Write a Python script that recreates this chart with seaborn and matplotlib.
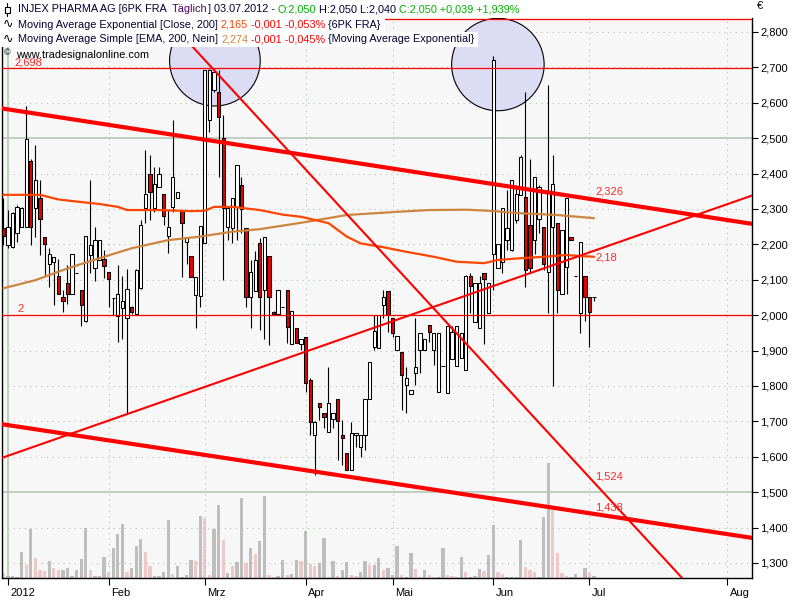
import numpy as np
import matplotlib
matplotlib.use("Agg")
import matplotlib.pyplot as plt
import matplotlib.transforms as mtransforms
from matplotlib.patches import Ellipse, Rectangle
from matplotlib.lines import Line2D
import seaborn as sns

# ---------------------------------------------------------------------------
# INJEX PHARMA AG, daily candles 30.12.2011 .. 03.07.2012 (trading-day index)
# ---------------------------------------------------------------------------
opens = [2.245, 2.198, 2.193, 2.233, 2.250, 2.250, 2.435, 2.302, 2.330, 2.221,
         2.146, 2.151, 2.110, 2.050, 2.090, 2.060, 2.120, 2.071, 1.983, 2.170,
         2.134, 2.156, 2.160, 2.121, 2.049, 1.998, 2.021, 1.991, 2.024, 2.003,
         2.077, 2.302, 2.400, 2.302, 2.363, 2.341, 2.224, 2.306, 2.330, 2.294,
         2.206, 2.167, 2.057, 2.055, 2.203, 2.551, 2.636, 2.631, 2.500, 2.250,
         2.245, 2.306, 2.368, 2.245, 2.050, 2.069, 2.203, 2.071, 2.167, 2.010,
         2.003, 2.022, 2.071, 1.920, 1.963, 1.920, 1.937, 1.817, 1.661, 1.751,
         1.723, 1.671, 1.708, 1.762, 1.661, 1.610, 1.562, 1.661, 1.627, 1.661,
         1.762, 1.911, 1.906, 2.029, 2.069, 1.991, 1.903, 1.895, 1.803, 1.777,
         1.836, 1.902, 1.902, 1.971, 1.903, 1.784, 1.856, 1.781, 1.875, 1.856,
         1.878, 1.845, 2.111, 1.982, 1.963, 2.120, 2.005, 2.174, 2.132, 2.150,
         2.212, 2.184, 2.269, 2.339, 2.335, 2.255, 2.212, 2.273, 2.248, 2.123,
         2.250, 2.261, 2.061, 2.135, 2.220, 2.110, 2.007, 2.110, 2.050, 2.050]
highs = [2.330, 2.297, 2.292, 2.311, 2.305, 2.591, 2.440, 2.481, 2.382, 2.222,
         2.189, 2.163, 2.160, 2.071, 2.141, 2.172, 2.120, 2.071, 2.225, 2.382,
         2.250, 2.212, 2.184, 2.121, 2.049, 2.141, 2.110, 2.130, 2.025, 2.130,
         2.270, 2.466, 2.452, 2.420, 2.420, 2.341, 2.297, 2.551, 2.349, 2.294,
         2.220, 2.167, 2.109, 2.253, 2.693, 2.695, 2.695, 2.693, 2.565, 2.302,
         2.330, 2.424, 2.391, 2.245, 2.156, 2.182, 2.217, 2.220, 2.167, 2.012,
         2.071, 2.022, 2.071, 2.012, 1.963, 1.932, 1.937, 1.822, 1.700, 1.751,
         1.723, 1.853, 1.723, 1.762, 1.704, 1.610, 1.699, 1.666, 1.661, 1.762,
         1.869, 2.000, 2.000, 2.071, 2.069, 1.991, 1.941, 1.895, 1.855, 1.790,
         1.991, 1.949, 1.932, 1.971, 1.949, 1.949, 1.856, 1.969, 1.969, 1.969,
         1.949, 2.114, 2.118, 2.090, 2.111, 2.120, 2.090, 2.732, 2.201, 2.302,
         2.354, 2.382, 2.368, 2.452, 2.631, 2.440, 2.389, 2.368, 2.248, 2.650,
         2.452, 2.261, 2.240, 2.330, 2.220, 2.110, 2.207, 2.110, 2.050, 2.050]
lows = [2.198, 2.190, 2.190, 2.207, 2.249, 2.250, 2.198, 2.222, 2.170, 2.113,
        2.080, 2.028, 2.060, 2.010, 2.033, 2.060, 2.120, 1.970, 1.982, 2.120,
        2.097, 2.156, 2.104, 2.022, 2.000, 1.925, 1.932, 1.722, 2.003, 2.003,
        2.073, 2.261, 2.269, 2.292, 2.363, 2.255, 2.175, 2.292, 2.330, 2.109,
        2.144, 2.109, 1.963, 2.024, 2.203, 2.518, 2.631, 2.391, 2.099, 2.212,
        2.205, 2.212, 2.233, 2.024, 1.965, 2.069, 1.958, 1.934, 1.916, 2.000,
        2.003, 2.022, 1.922, 1.920, 1.922, 1.902, 1.784, 1.661, 1.548, 1.704,
        1.680, 1.671, 1.680, 1.591, 1.577, 1.562, 1.562, 1.628, 1.600, 1.619,
        1.762, 1.903, 1.906, 1.991, 1.953, 1.939, 1.903, 1.732, 1.723, 1.777,
        1.803, 1.836, 1.902, 1.925, 1.859, 1.784, 1.856, 1.781, 1.875, 1.856,
        1.878, 1.845, 2.005, 1.982, 1.963, 1.920, 2.005, 2.071, 2.132, 2.120,
        2.184, 2.180, 2.261, 2.339, 2.080, 2.118, 2.174, 2.231, 2.127, 2.005,
        1.800, 2.005, 2.061, 2.061, 2.212, 2.110, 1.950, 1.984, 1.911, 2.040]
closes = [2.224, 2.250, 2.289, 2.306, 2.304, 2.497, 2.250, 2.382, 2.273, 2.200,
          2.172, 2.163, 2.061, 2.041, 2.060, 2.172, 2.120, 2.030, 2.223, 2.198,
          2.212, 2.212, 2.140, 2.101, 2.049, 2.061, 2.041, 2.075, 2.010, 2.129,
          2.254, 2.342, 2.349, 2.370, 2.400, 2.281, 2.250, 2.391, 2.349, 2.259,
          2.220, 2.109, 2.109, 2.253, 2.693, 2.693, 2.688, 2.561, 2.302, 2.302,
          2.330, 2.424, 2.299, 2.050, 2.121, 2.156, 2.050, 2.220, 2.050, 2.003,
          2.071, 2.022, 1.968, 2.012, 1.922, 1.932, 1.809, 1.699, 1.699, 1.741,
          1.711, 1.751, 1.723, 1.702, 1.652, 1.562, 1.668, 1.666, 1.661, 1.762,
          1.869, 1.955, 2.000, 2.050, 2.000, 1.951, 1.941, 1.831, 1.822, 1.790,
          1.855, 1.949, 1.932, 1.952, 1.949, 1.949, 1.856, 1.969, 1.953, 1.969,
          1.949, 2.111, 2.082, 2.090, 2.090, 2.101, 2.090, 2.721, 2.201, 2.302,
          2.245, 2.382, 2.342, 2.448, 2.127, 2.132, 2.389, 2.363, 2.146, 2.349,
          2.370, 2.071, 2.240, 2.330, 2.212, 2.110, 2.207, 2.052, 2.010, 2.050]

# volume (thousand shares) and bar shade (1 = pink, 0 = grey)
volumes = [5, 2, 2, 1, 26, 13, 49, 20, 8, 7, 17, 10, 8, 8, 10, 2, 8, 19, 50, 8,
           2, 2, 21, 6, 30, 44, 54, 6, 10, 32, 39, 26, 12, 2, 2, 6, 58, 4, 12, 1,
           3, 18, 17, 62, 60, 3, 49, 73, 38, 5, 12, 16, 80, 15, 30, 24, 37, 82, 3, 1,
           2, 18, 3, 4, 18, 17, 47, 14, 12, 15, 40, 1, 17, 2, 8, 16, 3, 2, 6, 17,
           13, 13, 20, 8, 10, 3, 32, 3, 1, 25, 9, 1, 8, 3, 1, 1, 30, 3, 2, 1,
           21, 6, 1, 2, 9, 7, 23, 53, 6, 4, 1, 1, 1, 38, 11, 8, 6, 1, 61, 115,
           69, 25, 5, 2, 1, 4, 1, 10, 5, 2]
volume_pink = [1, 0, 0, 0, 0, 1, 0, 1, 1, 1, 0, 1, 1, 0, 0, 0, 0, 0, 0, 1,
               0, 0, 0, 1, 0, 0, 0, 1, 0, 0, 0, 1, 1, 0, 0, 0, 0, 1, 0, 0,
               0, 0, 1, 0, 1, 1, 0, 0, 1, 0, 1, 0, 0, 1, 0, 1, 0, 0, 1, 1,
               0, 0, 1, 0, 0, 1, 0, 1, 1, 0, 0, 1, 0, 1, 0, 0, 1, 1, 0, 0,
               1, 0, 0, 1, 0, 0, 0, 1, 0, 0, 1, 1, 0, 1, 1, 0, 0, 1, 1, 0,
               0, 1, 0, 0, 0, 1, 0, 0, 1, 1, 0, 0, 0, 0, 1, 1, 1, 0, 0, 0,
               1, 1, 1, 1, 0, 0, 1, 0, 1, 0]

# Moving Average Exponential [Close, 200]
ema_idx = [0, 8, 12, 16, 21, 25, 27, 34, 41, 44, 46, 50, 56, 61, 65, 71, 75,
           78, 83, 88, 94, 99, 105, 108, 113, 118, 123, 126, 129]
ema_val = [2.340, 2.340, 2.327, 2.321, 2.314, 2.306, 2.297, 2.297, 2.294, 2.295,
           2.306, 2.306, 2.297, 2.284, 2.278, 2.260, 2.222, 2.203, 2.192, 2.179,
           2.165, 2.151, 2.147, 2.156, 2.161, 2.165, 2.170, 2.167, 2.165]
# Moving Average Simple [EMA, 200, Nein]
sma_idx = [0, 7, 14, 21, 28, 36, 43, 50, 56, 65, 75, 86, 93, 101, 106, 113, 121, 129]
sma_val = [2.076, 2.099, 2.132, 2.161, 2.189, 2.212, 2.222, 2.236, 2.243, 2.261,
           2.283, 2.292, 2.297, 2.298, 2.295, 2.288, 2.283, 2.274]

# drawn trend lines: (x0, x1), (y0, y1)
upper_channel = ([-0.3, 163.5], [2.584, 2.258])
lower_channel = ([-0.3, 163.5], [1.692, 1.371])
rising_line = ([-0.3, 163.5], [1.597, 2.338])
falling_line = ([35.5, 148.2], [2.840, 1.258])
trend_label_x = 129.2
trend_labels = ["2,326", "2,18", "1,524", "1,438"]
trend_label_vals = [2.326, 2.18, 1.524, 1.438]
trend_label_dy = [8, -6, 7, 7]

hline_vals = [2.698, 2.0, 2.837]
hline_labels = ["2,698", "2", ""]
hline_label_x = [2.5, 3.0, 0]

# marker circles: centre (day, price), width (days), height (price)
circles = [((46.2, 2.719), 19.8, 0.256), ((108.0, 2.708), 20.2, 0.261)]

month_ticks = [1, 23, 44, 66, 85, 107, 128, 158]
month_labels = ["2012", "Feb", "Mrz", "Apr", "Mai", "Jun", "Jul", "Aug"]
price_ticks = [1.3, 1.4, 1.5, 1.6, 1.7, 1.8, 1.9, 2.0, 2.1, 2.2, 2.3, 2.4,
               2.5, 2.6, 2.7, 2.8]

# ---------------------------------------------------------------------------
sns.set_theme(style="white")
plt.rcParams["font.family"] = ["Liberation Sans", "DejaVu Sans"]

W, H = 800, 600
fig = plt.figure(figsize=(8, 6), dpi=100)
fig.patch.set_facecolor("white")
ax = fig.add_axes([2 / W, 22 / H, 750 / W, 560 / H])
ax_vol = ax.twinx()

BG = "#F7F7F7"
GRID = "#A9C2A9"
SOLID_GRID = "#B5C9B5"

ax_vol.set_zorder(1)
ax.set_zorder(2)
ax.patch.set_visible(False)
ax_vol.patch.set_visible(True)
ax_vol.set_facecolor(BG)

idx = np.arange(len(opens))
o = np.array(opens); h = np.array(highs); l = np.array(lows); c = np.array(closes)

# volume pane in the lower part of the price chart
vol_colors = ["#F0C8C8" if p else "#BEBEBE" for p in volume_pink]
ax_vol.bar(idx, volumes, width=0.72, color=vol_colors, linewidth=0)
ax_vol.set_ylim(0, 560)
ax_vol.set_yticks([])
for s in ax_vol.spines.values():
    s.set_visible(False)

# grid
for v in price_ticks:
    if abs(v - 1.5) < 1e-6 or abs(v - 2.5) < 1e-6:
        ax.axhline(v, color=SOLID_GRID, lw=1.2, zorder=0.5)
    else:
        ax.axhline(v, color=GRID, lw=0.8, ls=(0, (1, 4)), zorder=0.5)
for k, t in enumerate(month_ticks):
    if k == 0:
        ax.axvline(t, color=SOLID_GRID, lw=1.2, zorder=0.5)
    else:
        ax.axvline(t, color=GRID, lw=0.8, ls=(0, (1, 4)), zorder=0.5)

# marker circles
for (cx, cy), w, hgt in circles:
    ax.add_patch(Ellipse((cx, cy), w, hgt, facecolor="#DCDCF4",
                         edgecolor="black", lw=0.8, zorder=1))

# candles
ax.vlines(idx, l, h, colors="black", lw=0.8, zorder=2)
body_fill = ["#E60000" if cc < oo else "white" for oo, cc in zip(o, c)]
ax.bar(idx, np.abs(c - o), bottom=np.minimum(o, c), width=0.72,
       color=body_fill, edgecolor="black", linewidth=0.75, zorder=2.5)

# moving averages
sns.lineplot(x=sma_idx, y=sma_val, ax=ax, color="#CD853F", lw=1.6, zorder=3)
sns.lineplot(x=ema_idx, y=ema_val, ax=ax, color="#FF4500", lw=1.6, zorder=3)

# trend lines
for (xs, ys), lw in [(upper_channel, 3.0), (lower_channel, 3.0),
                     (rising_line, 1.5), (falling_line, 1.5)]:
    sns.lineplot(x=xs, y=ys, ax=ax, color="#FF0000", lw=lw, zorder=4)
for txt, val, dy in zip(trend_labels, trend_label_vals, trend_label_dy):
    ax.annotate(txt, xy=(trend_label_x, val), xytext=(0, dy),
                textcoords="offset pixels", color="#FF2A2A", fontsize=8,
                ha="left", va="center", zorder=6)

# horizontal levels
for val, txt, lx in zip(hline_vals, hline_labels, hline_label_x):
    ax.axhline(val, color="#FF0000", lw=0.9, zorder=4)
    if txt:
        ax.annotate(txt, xy=(lx, val), xytext=(0, 6), textcoords="offset pixels",
                    color="#FF2A2A", fontsize=8, ha="left", va="center", zorder=6)

# axes
ax.set_xlim(-0.3, 163.5)
ax.set_ylim(1.2576, 2.8395)
ax.yaxis.tick_right()
ax.set_yticks(price_ticks)
ax.set_yticklabels([f"{v:.3f}".replace(".", ",") for v in price_ticks])
ax.set_xticks(month_ticks)
ax.set_xticklabels(month_labels)
ax.tick_params(axis="y", right=True, left=False, length=4, width=0.8,
               color="black", labelsize=8, pad=2, labelcolor="black")
ax.tick_params(axis="x", bottom=True, length=5, width=0.8, color="black",
               labelsize=8, pad=2, labelcolor="black")
shift = mtransforms.ScaledTranslation(2 / 72, 0, fig.dpi_scale_trans)
for t in ax.get_xticklabels():
    t.set_horizontalalignment("left")
    t.set_transform(t.get_transform() + shift)
ax.set_xlabel("")
ax.set_ylabel("")
for side in ["left", "bottom", "right"]:
    ax.spines[side].set_visible(True)
    ax.spines[side].set_color("black")
    ax.spines[side].set_linewidth(1.0)
ax.spines["top"].set_visible(False)

fig.text(757 / W, 1 - 6 / H, "€", fontsize=8, ha="left", va="center", color="black")

# header rows
renderer = fig.canvas.get_renderer()
DARK = "#000033"
GREEN = "#00B000"
RED = "#FF0000"
FS = 7.8


def header_row(segments, x_px, y_px, top_px, bottom_px):
    x = x_px
    for s, col in segments:
        t = fig.text(x / W, 1 - y_px / H, s, color=col, fontsize=FS,
                     ha="left", va="center", zorder=7)
        bb = t.get_window_extent(renderer)
        x = bb.x1
    fig.add_artist(Rectangle((0, 1 - bottom_px / H), (x + 4) / W,
                             (bottom_px - top_px) / H, transform=fig.transFigure,
                             facecolor="white", edgecolor="none", zorder=5))


header_row([("INJEX PHARMA AG [6PK FRA  ", DARK), ("Täglich", "#4B0060"),
            ("] 03.07.2012 - ", DARK), ("O:2,050", GREEN),
            (" H:2,050 L:2,040 ", DARK), ("C:2,050 +0,039 +1,939%", GREEN)],
           18, 9.5, 1, 17)
header_row([("Moving Average Exponential [Close, 200] ", DARK), ("2,165", "#FF4500"),
            (" -0,001 -0,053%", RED), (" {6PK FRA}", DARK)], 18, 24.5, 17, 32)
header_row([("Moving Average Simple [EMA, 200, Nein] ", DARK), ("2,274", "#CD853F"),
            (" -0,001 -0,045%", RED), (" {Moving Average Exponential}", DARK)],
           18, 39.5, 32, 47)

# icons in front of the rows
fig.add_artist(Line2D([7 / W, 7 / W], [1 - 3 / H, 1 - 16 / H], color="black",
                      lw=0.8, transform=fig.transFigure, zorder=8))
fig.add_artist(Rectangle((4.5 / W, 1 - 13 / H), 5 / W, 6 / H, transform=fig.transFigure,
                         facecolor="white", edgecolor="black", lw=0.8, zorder=9))
for y in (24.5, 39.5):
    fig.text(3 / W, 1 - y / H, "∿", fontsize=9, family=["DejaVu Sans"],
             ha="left", va="center", color="black", zorder=8)

fig.text(4 / W, 1 - 53 / H, "©", fontsize=6.5, ha="left", va="center",
         color="black", zorder=8)
fig.text(16 / W, 1 - 55 / H, "www.tradesignalonline.com", fontsize=FS,
         ha="left", va="center", color="black", zorder=8)

fig.savefig("out.png", dpi=100, facecolor="white")
